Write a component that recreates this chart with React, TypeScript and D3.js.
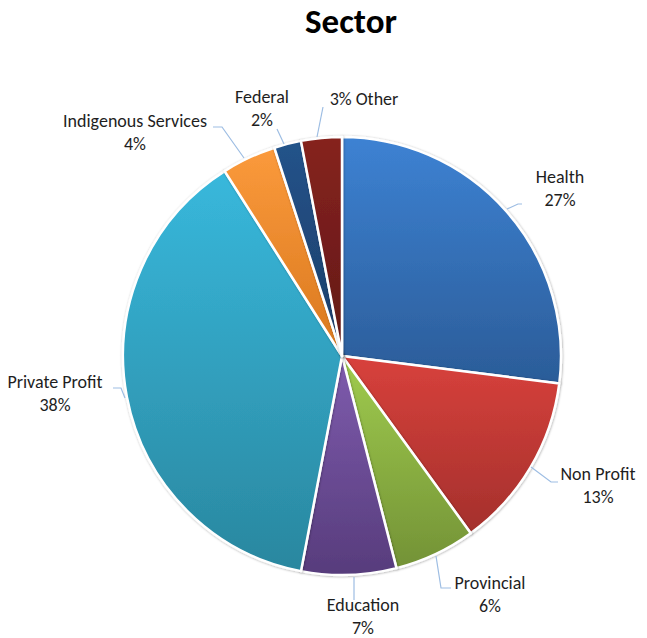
import React from "react";
import * as d3 from "d3";

const categories = ["Health", "Non Profit", "Provincial", "Education", "Private Profit", "Indigenous Services", "Federal", "Other"];
const values = [27, 13, 6, 7, 38, 4, 2, 3];
const colorsTop = ["#3d82d3", "#d8413c", "#a0cc4e", "#7f5cae", "#38b8dc", "#fb9a3c", "#24538a", "#86231f"];
const colorsBottom = ["#2b5c98", "#a4302c", "#739236", "#573c7c", "#2a879f", "#d9781e", "#1b3d68", "#611816"];

// label layout: text anchor point (baseline of first line), leader polyline
const labelLayout = [
  { x: 560, y: 183, line: [[507, 209], [518, 204], [522, 204]] },
  { x: 598, y: 480, line: [[531, 467], [551, 482], [558, 482]] },
  { x: 490, y: 589, line: [[436, 556], [441, 588], [451, 588]] },
  { x: 363, y: 611, line: [[354, 577], [354, 600]] },
  { x: 55, y: 388, line: [[113, 388], [121, 388], [125, 398]] },
  { x: 135, y: 127, line: [[213, 127], [222, 127], [244, 158]] },
  { x: 262, y: 103, line: [[277, 129], [284, 144]] },
  { x: 364, y: 105, line: [[323, 107], [317, 137]] },
];

const W = 647, H = 638;
const cx = 342, cy = 356, R = 219;

export default function App() {
  const pie = d3.pie<number>().sort(null).value((d) => d)(values);
  const arc = d3.arc<d3.PieArcDatum<number>>().innerRadius(0).outerRadius(R);
  const total = d3.sum(values);
  const font = "Calibri, Carlito, Lato, sans-serif";
  return (
    <svg width={W} height={H} style={{ position: "absolute", left: 0, top: 0 }}>
      <defs>
        {values.map((_, i) => (
          <linearGradient key={i} id={`g${i}`} x1="0" y1="0" x2="0" y2="1">
            <stop offset="0%" stopColor={colorsTop[i]} />
            <stop offset="100%" stopColor={colorsBottom[i]} />
          </linearGradient>
        ))}
        <filter id="sh" x="-10%" y="-10%" width="120%" height="120%">
          <feDropShadow dx="0.5" dy="0.5" stdDeviation="1.2" floodColor="#000" floodOpacity="0.35" />
        </filter>
      </defs>
      <text x={351} y={33} textAnchor="middle" fontFamily={font} fontWeight="bold" fontSize={35} fill="#000">Sector</text>
      <g transform={`translate(${cx},${cy})`}>
        {pie.map((p, i) => (
          <path key={i} d={arc(p) || ""} fill={`url(#g${i})`} stroke="#fff" strokeWidth={2.5} strokeLinejoin="round" filter="url(#sh)" />
        ))}
      </g>
      {labelLayout.map((l, i) => (
        <polyline key={"l" + i} points={l.line.map((p) => p.join(",")).join(" ")} fill="none" stroke="#9dbde3" strokeWidth={1.2} />
      ))}
      {labelLayout.map((l, i) => {
        const pct = Math.round((values[i] / total) * 100) + "%";
        if (categories[i] === "Other") {
          return (
            <text key={"t" + i} x={l.x} y={l.y} textAnchor="middle" fontFamily={font} fontSize={18} fill="#1e1e1e">{`${pct} ${categories[i]}`}</text>
          );
        }
        return (
          <text key={"t" + i} x={l.x} y={l.y} textAnchor="middle" fontFamily={font} fontSize={18} fill="#1e1e1e">
            <tspan x={l.x} dy={0}>{categories[i]}</tspan>
            <tspan x={l.x} dy={22.5}>{pct}</tspan>
          </text>
        );
      })}
    </svg>
  );
}
